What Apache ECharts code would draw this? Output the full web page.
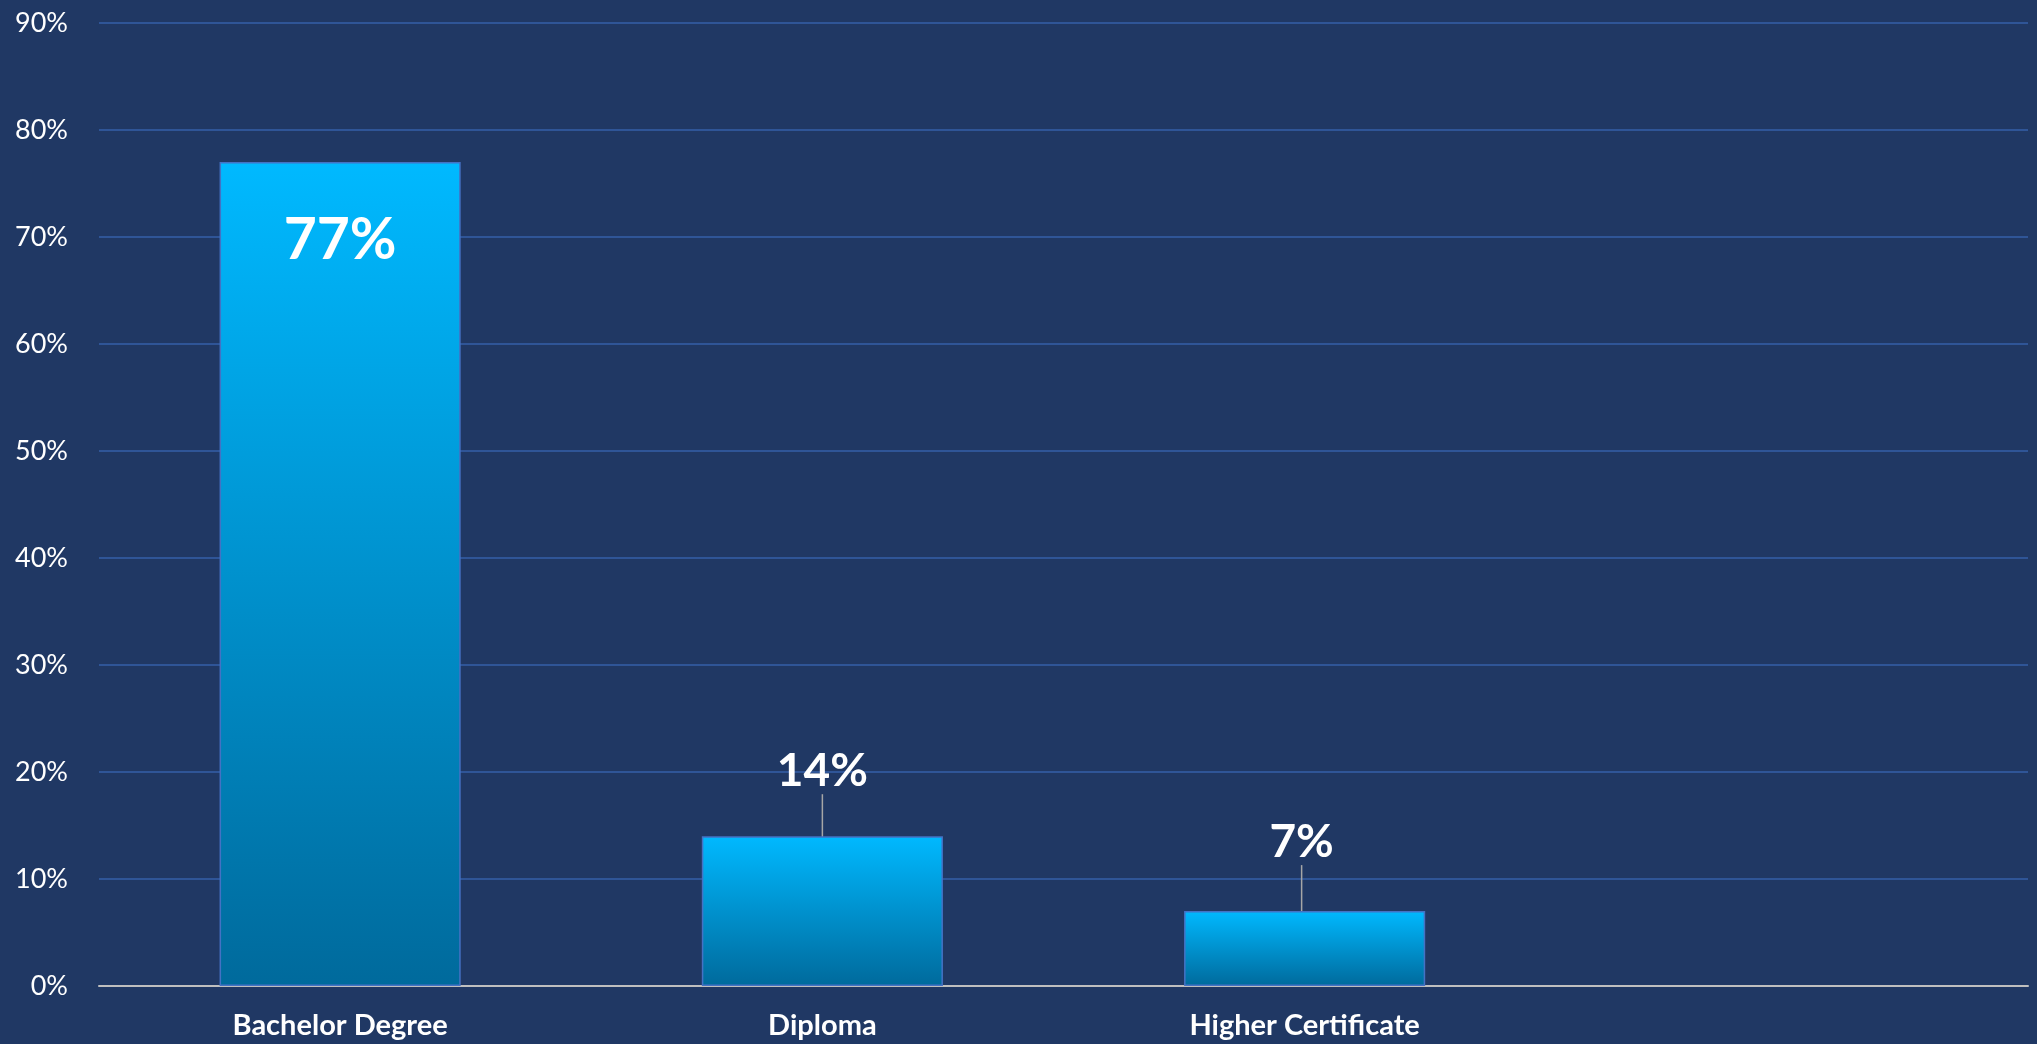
<!DOCTYPE html>
<html><head><meta charset="utf-8">
<script src="https://cdn.jsdelivr.net/npm/echarts@6/dist/echarts.min.js"></script>
<style>html,body{margin:0;padding:0;background:#203864;}#c{width:2037px;height:1044px;}</style>
</head><body><div id="c"></div>
<script>
const categories = ['Bachelor Degree', 'Diploma', 'Higher Certificate', ''];
const values = [77, 14, 7, null];
const yTicks = [0, 10, 20, 30, 40, 50, 60, 70, 80, 90];

const chart = echarts.init(document.getElementById('c'));
const font = 'Lato, "Open Sans", sans-serif';
const data = values.map((v, i) => {
  if (i === 0) return { value: v, label: { position: 'insideTop', distance: 50, fontSize: 57 }, labelLine: { show: false } };
  return { value: v, label: { position: 'top', distance: 2, fontSize: 46 }, labelLine: { show: true } };
});
chart.setOption({
  backgroundColor: '#203864',
  animation: false,
  grid: { left: 99, right: 9, top: 23, bottom: 58 },
  xAxis: {
    type: 'category', data: categories,
    axisLine: { lineStyle: { color: '#bfbfbf', width: 2 } },
    axisTick: { show: false },
    axisLabel: { color: '#ffffff', fontFamily: font, fontWeight: 'bold', fontSize: 29, margin: 25 }
  },
  yAxis: {
    type: 'value', min: yTicks[0], max: yTicks[yTicks.length - 1], interval: 10,
    axisLine: { show: false }, axisTick: { show: false },
    axisLabel: { color: '#ffffff', fontFamily: font, fontSize: 27, margin: 31, formatter: '{value}%' },
    splitLine: { lineStyle: { color: '#2f5597', width: 2 } }
  },
  series: [{
    type: 'bar', data: data, barWidth: '50%',
    itemStyle: {
      borderColor: '#4472c4', borderWidth: 1.5,
      color: { type: 'linear', x: 0, y: 0, x2: 0, y2: 1,
        colorStops: [{ offset: 0, color: '#00b9ff' }, { offset: 1, color: '#006a9c' }] }
    },
    label: { show: true, color: '#ffffff', fontFamily: font, fontWeight: 'bold', formatter: '{c}%' },
    labelLine: { lineStyle: { color: '#a6a6a6', width: 1.5 } },
    labelLayout: function (p) {
      if (p.dataIndex === 1) return { dy: -40 };
      if (p.dataIndex === 2) return { dy: -44, dx: -3 };
      return {};
    }
  }]
});
</script></body></html>
